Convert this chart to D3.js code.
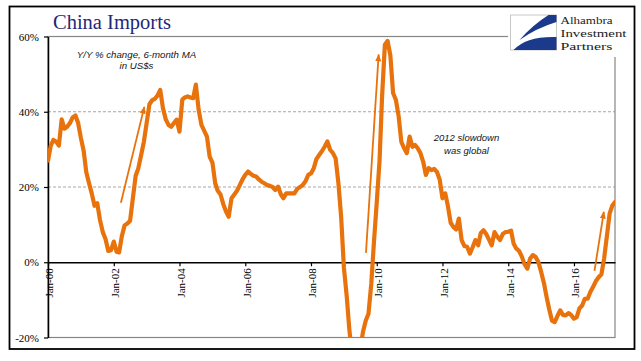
<!DOCTYPE html>
<html>
<head>
<meta charset="utf-8">
<script src="https://cdn.jsdelivr.net/npm/d3@7"></script>
<style>
    body { margin: 0; background: #fff; }
    svg { display: block; }
</style>
</head>
<body>
<svg id="chart" width="641" height="361"></svg>
<script>
// China imports, Y/Y % change, 6-month moving average, monthly from Jan 2000
const startMonth = new Date(2000, 0, 1);
const importsYoY = [
    27, 31, 32.5, 32, 31, 38, 35.5, 36, 37, 38.5, 39, 37,             // 2000
    33, 29.5, 24, 21, 18.3, 15, 15.7, 11.2, 8, 6.2, 3, 3.2,           // 2001
    5.5, 2.8, 2.6, 7, 9.8, 10.3, 11, 17, 23, 25, 28.5, 32,            // 2002
    37, 42, 43, 43.4, 44.3, 45.8, 41, 38, 36.5, 36, 37, 37.9,         // 2003
    34.7, 43.2, 43.8, 44.1, 43.8, 43.6, 47.2, 40.5, 36.5, 35, 33.4, 28.1, // 2004
    26.5, 21, 19, 18, 15.5, 13.5, 12.1, 17, 18, 19, 20.5, 22,         // 2005
    23.2, 24.1, 23.5, 23, 22.8, 22, 21.4, 21, 20.5, 20.3, 20, 19.2,   // 2006
    20.1, 18, 17, 18.3, 18.3, 18.3, 18.3, 19.5, 20, 20.5, 21.5, 23.2, // 2007
    23.6, 25, 27.4, 28.5, 29.5, 30.7, 32.1, 29.9, 29, 27.6, 21, 12.1, // 2008
    -1.5, -9, -17.5, -25, -28, -27, -23, -18.5, -15.5, -13.7, -5.7, 5.5, // 2009
    16, 27, 44, 57.8, 58.8, 55, 45, 43.2, 38.8, 32, 30.3, 29,         // 2010
    33.4, 30.7, 31.2, 30.3, 29, 26.7, 23.2, 25, 24.5, 24.8, 24, 22,   // 2011
    17, 18.3, 15, 10.5, 9.4, 8.7, 11.6, 5.9, 4.3, 4.1, 2.3, 4,        // 2012
    5.9, 4.5, 7.7, 8.5, 7.5, 6, 4.5, 8, 6.8, 5.9, 7.5, 8,             // 2013
    8.1, 8.4, 5, 3.6, 3, 1.5, -0.5, -1.7, 1, 1.9, 1.4, 0.1,           // 2014
    -2.5, -5.5, -9, -12.5, -15.5, -15.9, -14.3, -12.8, -14, -14.1, -13.5, -14, // 2015
    -15, -14.6, -12.3, -11.5, -9.7, -9.7, -7.9, -6.5, -5, -4, -3.2, 1, // 2016
    7, 13, 15, 16                                                     // 2017
];

const yTicks = [-20, 0, 20, 40, 60];
const yGridValues = [20, 40];
const xTickYears = [2000, 2002, 2004, 2006, 2008, 2010, 2012, 2014, 2016];
const xTickLabels = ["Jan-00", "Jan-02", "Jan-04", "Jan-06", "Jan-08", "Jan-10", "Jan-12", "Jan-14", "Jan-16"];

// hand drawn arrows on the original chart: [date, value] pairs
const annotationArrows = [
    { from: ["2002-03-21", 15.8], to: ["2002-12-06", 41.3] },
    { from: ["2009-09-03", 2.5], to: ["2010-01-22", 55.2] },
    { from: ["2016-08-16", -2.3], to: ["2016-11-28", 13.4] }
];

const titleText = "China Imports";
const subtitleLines = ["Y/Y % change, 6-month MA", "in US$s"];
const noteLines = ["2012 slowdown", "was global"];
const logoLines = ["Alhambra", "Investment", "Partners"];

const lineColor = "#e8720c";
const plot = { left: 48, right: 615, top: 36.5, bottom: 337.5 };

const svg = d3.select("#chart");
const parseDay = d3.timeParse("%Y-%m-%d");

svg.append("rect")
    .attr("width", 641)
    .attr("height", 361)
    .attr("fill", "#fff");

const x = d3.scaleTime()
    .domain([startMonth, d3.timeMonth.offset(startMonth, importsYoY.length - 1)])
    .range([plot.left, plot.right]);

const y = d3.scaleLinear()
    .domain([-20, 60])
    .range([plot.bottom, plot.top]);

// dashed gridlines
svg.append("g")
    .selectAll("line")
    .data(yGridValues)
    .join("line")
    .attr("x1", plot.left)
    .attr("x2", plot.right)
    .attr("y1", d => y(d))
    .attr("y2", d => y(d))
    .attr("stroke", "#a6a6a6")
    .attr("stroke-width", 1)
    .attr("stroke-dasharray", "3,2");

// plot area frame
svg.append("rect")
    .attr("x", plot.left)
    .attr("y", plot.top)
    .attr("width", plot.right - plot.left)
    .attr("height", plot.bottom - plot.top)
    .attr("fill", "none")
    .attr("stroke", "#868686")
    .attr("stroke-width", 1.2);

// y axis
const yAxis = svg.append("g")
    .attr("transform", `translate(${plot.left},0)`)
    .call(d3.axisLeft(y)
        .tickValues(yTicks)
        .tickSize(4)
        .tickSizeOuter(0)
        .tickPadding(5)
        .tickFormat(d => d + "%"));

yAxis.select(".domain").attr("stroke", "#000").attr("stroke-width", 1.5);
yAxis.selectAll(".tick line").attr("stroke", "#000").attr("stroke-width", 1.2);
yAxis.selectAll("text")
    .attr("font-family", "'Liberation Serif', 'Times New Roman', serif")
    .attr("font-size", 11)
    .attr("fill", "#000");

// x axis sits on the 0% line
const xAxis = svg.append("g")
    .attr("transform", `translate(0,${y(0)})`)
    .call(d3.axisBottom(x)
        .tickValues(xTickYears.map(yr => new Date(yr, 0, 1)))
        .tickSize(4)
        .tickSizeOuter(0)
        .tickFormat((d, i) => xTickLabels[i]));

xAxis.select(".domain").attr("stroke", "#000").attr("stroke-width", 1.4);
xAxis.selectAll(".tick line").attr("stroke", "#000").attr("stroke-width", 1.2);
xAxis.selectAll("text")
    .attr("transform", "rotate(-90)")
    .attr("text-anchor", "end")
    .attr("x", -6)
    .attr("y", 0)
    .attr("dy", "0.45em")
    .attr("font-family", "'Liberation Serif', 'Times New Roman', serif")
    .attr("font-size", 11)
    .attr("fill", "#000");

// series line, clipped to the plot area
svg.append("clipPath")
    .attr("id", "plotClip")
    .append("rect")
    .attr("x", plot.left)
    .attr("y", plot.top)
    .attr("width", plot.right - plot.left)
    .attr("height", plot.bottom - plot.top);

const line = d3.line()
    .x((d, i) => x(d3.timeMonth.offset(startMonth, i)))
    .y(d => y(d));

svg.append("path")
    .datum(importsYoY)
    .attr("clip-path", "url(#plotClip)")
    .attr("d", line)
    .attr("fill", "none")
    .attr("stroke", lineColor)
    .attr("stroke-width", 4.2)
    .attr("stroke-linejoin", "round")
    .attr("stroke-linecap", "round");

// arrows
svg.append("defs")
    .append("marker")
    .attr("id", "arrowHead")
    .attr("viewBox", "0 0 10 8")
    .attr("refX", 9)
    .attr("refY", 4)
    .attr("markerUnits", "userSpaceOnUse")
    .attr("markerWidth", 8)
    .attr("markerHeight", 6)
    .attr("orient", "auto")
    .append("path")
    .attr("d", "M0,0 L10,4 L0,8 Z")
    .attr("fill", lineColor);

svg.append("g")
    .selectAll("line")
    .data(annotationArrows)
    .join("line")
    .attr("x1", d => x(parseDay(d.from[0])))
    .attr("y1", d => y(d.from[1]))
    .attr("x2", d => x(parseDay(d.to[0])))
    .attr("y2", d => y(d.to[1]))
    .attr("stroke", lineColor)
    .attr("stroke-width", 1.8)
    .attr("marker-end", "url(#arrowHead)");

// text annotations
function addTextBlock(lines, cx, firstBaseline, lineHeight, size) {
    svg.append("g")
        .selectAll("text")
        .data(lines)
        .join("text")
        .attr("x", cx)
        .attr("y", (d, i) => firstBaseline + i * lineHeight)
        .attr("text-anchor", "middle")
        .attr("font-family", "'Liberation Sans', Arial, sans-serif")
        .attr("font-style", "italic")
        .attr("font-size", size)
        .attr("fill", "#141414")
        .text(d => d);
}

addTextBlock(subtitleLines, 136.5, 57.5, 11.5, 9.7);
addTextBlock(noteLines, 466.5, 141, 13, 9.5);

// logo block covers the top right corner of the frame
svg.append("rect")
    .attr("x", 508)
    .attr("y", 9)
    .attr("width", 125)
    .attr("height", 48)
    .attr("fill", "#fff");

const logo = svg.append("g").attr("transform", "translate(510.5,15)");

logo.append("rect")
    .attr("width", 46)
    .attr("height", 35)
    .attr("fill", "#fff")
    .attr("stroke", "#c8c8c8")
    .attr("stroke-width", 1);

logo.append("path")
    .attr("d", "M46,0 L38,0 Q22,10 9,25 Q26,13 46,7 Z")
    .attr("fill", "#1b3a8c");

logo.append("path")
    .attr("d", "M3,35 Q16,21 46,22 L46,35 Z")
    .attr("fill", "#1b3a8c");

// logo lettering stretched to the widths of the original wordmark
const logoWidths = [52, 66, 52];
svg.append("g")
    .selectAll("text")
    .data(logoLines)
    .join("text")
    .attr("x", 560.5)
    .attr("y", (d, i) => 24.3 + i * 12.7)
    .attr("font-family", "'Liberation Serif', 'Times New Roman', serif")
    .attr("font-size", 11)
    .attr("textLength", (d, i) => logoWidths[i])
    .attr("lengthAdjust", "spacingAndGlyphs")
    .attr("fill", "#222")
    .text(d => d);

// title
svg.append("text")
    .attr("x", 53)
    .attr("y", 29)
    .attr("font-family", "'Liberation Serif', Georgia, serif")
    .attr("font-size", 20.5)
    .attr("fill", "#1f2878")
    .text(titleText);

// outer frame
svg.append("rect")
    .attr("x", 9.5)
    .attr("y", 6.5)
    .attr("width", 625)
    .attr("height", 342.5)
    .attr("fill", "none")
    .attr("stroke", "#000")
    .attr("stroke-width", 1.8);
</script>
</body>
</html>
